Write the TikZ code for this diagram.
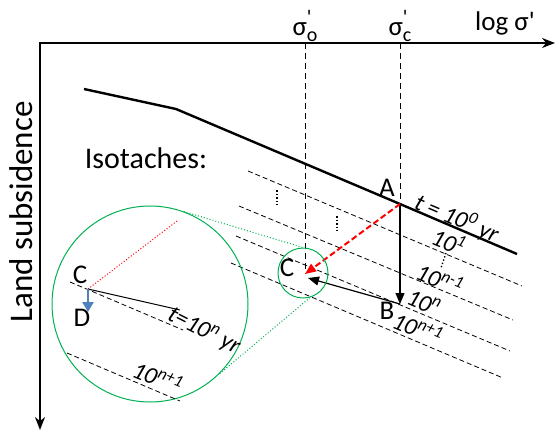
\documentclass[tikz,border=0pt]{standalone}
\usepackage{fontspec}
\setmainfont{Carlito}
\usetikzlibrary{arrows.meta}

\definecolor{lensgreen}{RGB}{0,176,80}
\definecolor{settleblue}{RGB}{79,129,189}

% effective stress with prime over the index
\newcommand{\sigprime}[1]{σ\rlap{\raisebox{0.4em}{\fontsize{21}{21}\selectfont\textquotesingle}}\raisebox{-0.25em}{\fontsize{20}{20}\selectfont #1}}

\begin{document}
\begin{tikzpicture}[x=1pt, y=-1pt,
    isotache/.style={dash pattern=on 5pt off 3pt, line width=0.8pt},
    guide/.style={dash pattern=on 6pt off 4pt, line width=1pt},
    lens/.style={circle, draw=lensgreen, line width=1pt, inner sep=0pt},
    tag/.style={font=\fontsize{27}{30}\selectfont},
    rate/.style={font=\fontsize{24}{28}\selectfont\itshape, rotate=-23, inner sep=1pt},
    tip/.style={-{Triangle[length=11pt, width=9pt]}}]
    \useasboundingbox (0,0) rectangle (556,431);

    % Draw axes
    \coordinate (O) at (40,43);
    \coordinate (xtip) at (555,43);
    \coordinate (ytip) at (40,430);
    \draw[line width=1.6pt, {Stealth[length=13pt, width=10pt]}-{Stealth[length=13pt, width=10pt]}] (ytip) -- (O) -- (xtip);

    % Axis labels
    \node[tag] (sigo) at (305,26) {\sigprime{o}};
    \node[tag] (sigc) at (400,26) {\sigprime{c}};
    \node[tag] (logsig) at (505,23) {log σ\textquotesingle};
    \node[font=\fontsize{33}{36}\selectfont, rotate=90] (subs) at (21,212) {Land subsidence};
    \node[font=\fontsize{30}{34}\selectfont] (iso) at (146,158) {Isotaches:};

    % Draw nodes
    \coordinate (p0) at (84,89);
    \coordinate (knee) at (176,109);
    \coordinate (A) at (400,204);
    \coordinate (p1) at (517,254);
    \coordinate (B) at (400,304);
    \coordinate (C) at (305,274);
    \coordinate (so-top) at (305,43);
    \coordinate (sc-top) at (400,43);

    % Compression line and isotaches
    \draw[line width=2.4pt] (p0) -- (knee) -- (A) -- (p1);
    \foreach \name/\xa/\ya/\xb/\yb in {one/248/171/522/286, nmo/239/206/513/320, n/236/236/510/351, npo/231/263/503/378} {
        \coordinate (\name-w) at (\xa,\ya);
        \coordinate (\name-e) at (\xb,\yb);
        \draw[isotache] (\name-w) -- (\name-e);
    }
    \draw[dotted, line width=1.6pt] (277,190) -- (277,205);
    \draw[dotted, line width=1.6pt] (337,216) -- (337,231);
    \draw[dotted, line width=1.4pt] (446,253) -- (441,268);

    % Draw connections
    \draw[guide] (so-top) -- (C);
    \draw[guide] (sc-top) -- (A);
    \draw[line width=1.2pt, tip] (A) -- (B);
    \draw[line width=1.2pt, tip] (B) -- ([shift={(3,4)}]C);
    \draw[red, line width=2pt, dash pattern=on 6pt off 3pt, tip] (A) -- (C);

    % Labels
    \node[tag] (Alab) at (387,188) {A};
    \node[tag] (Blab) at (387,311) {B};
    \node[tag] (Clab) at (287,268) {C};
    \node[rate] (r0) at (457,218) {t = 10\textsuperscript{0} yr};
    \node[rate] (r1) at (449,241) {10\textsuperscript{1}};
    \node[rate] (rnmo) at (440,279) {10\textsuperscript{n-1}};
    \node[rate] (rn) at (424,302) {10\textsuperscript{n}};
    \node[rate] (rnpo) at (418,328) {10\textsuperscript{n+1}};

    % Zoom lens
    \node[lens, minimum size=50] (small) at (303,273) {};
    \node[lens, minimum size=196] (big) at (150,304) {};
    \draw[lensgreen, dotted, line width=1pt] (big.70) -- (small.90);
    \draw[lensgreen, dotted, line width=1pt] (big.-45) -- (small.-74);

    % Inside the lens
    \coordinate (zC) at (88,289);
    \coordinate (zD) at (88,312);
    \coordinate (zred) at (177,221);
    \coordinate (zline) at (180,310);
    \coordinate (zn-w) at (70,282);
    \coordinate (zn-e) at (183,330);
    \coordinate (znpo-w) at (67,353);
    \coordinate (znpo-e) at (180,401);
    \draw[isotache] (zn-w) -- (zn-e);
    \draw[isotache] (znpo-w) -- (znpo-e);
    \draw[red, dotted, line width=1pt] (zC) -- (zred);
    \draw[line width=1pt] (zC) -- (zline);
    \draw[settleblue, line width=2.5pt, -{Triangle[length=10pt, width=11pt]}] (zC) -- (zD);
    \node[tag] (zClab) at (80,275) {C};
    \node[tag] (zDlab) at (82,318) {D};
    \node[rate, rotate=-4] (zrn) at (204,331) {t=10\textsuperscript{n} yr};
    \node[rate] (zrnpo) at (158,377) {10\textsuperscript{n+1}};
\end{tikzpicture}
\end{document}
